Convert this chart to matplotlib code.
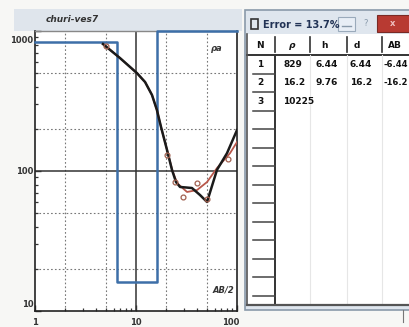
import matplotlib
matplotlib.use("Agg")
import matplotlib.pyplot as plt
from matplotlib.patches import Rectangle
import numpy as np

# ---- data ----
title = "churi-ves7"
layer_rho = [829, 16.2, 10225]
layer_h = [6.44, 9.76]
layer_d = [6.44, 16.2]
layer_ab = ["-6.44", "-16.2"]
error_text = "Error = 13.7%"

obs_ab2 = [4.71, 6.94, 10.2, 12.3, 14.4, 16.1, 17.7, 20.3, 22.7, 24.9, 27.3, 35.8, 43.0, 50.5, 63.4, 79.6, 100]
obs_rho = [807, 641, 501, 432, 349, 273, 206, 141, 102, 83.4, 76.9, 75.6, 67.4, 60.1, 102, 134, 196]

calc_ab2 = [4.71, 6.94, 10.2, 12.3, 14.4, 16.1, 17.7, 20.7, 23.0, 25.5, 32.0, 40.2, 50.5, 63.4, 85.3, 100]
calc_rho = [807, 641, 501, 432, 349, 273, 206, 134, 100, 82, 70.8, 73.1, 83.4, 105, 134, 161]

pt_ab2 = [5.04, 20.3, 24.3, 29.2, 40.0, 50.5, 81.5]
pt_rho = [781, 130, 83, 65, 82, 63, 122]

xticklabels = ["1", "10", "100"]
yticklabels = ["10", "100", "1000"]
headers = ["N", "\u03c1", "h", "d", "AB"]

W, H = 409, 327
fig = plt.figure(figsize=(W / 100, H / 100), dpi=100)
fig.patch.set_facecolor("#f7f7f5")
fnt = ["Liberation Sans Narrow", "DejaVu Sans"]

# overlay for decorations (pixel coords)
ov = fig.add_axes([0, 0, 1, 1])
ov.set_xlim(0, W)
ov.set_ylim(H, 0)
ov.axis("off")
ov.set_zorder(0)

# chart header band
ov.add_patch(Rectangle((14, 9), 228, 22, facecolor="#dfe5ec", edgecolor="none"))
ov.text(72, 20, title, fontsize=6.5, style="italic", fontweight="bold",
        color="#333333", va="center", ha="center", family=fnt)

# ---- main chart ----
ax = fig.add_axes([35 / W, 16 / H, 202 / W, 280 / H])
ax.set_zorder(2)
ax.set_facecolor("white")
ax.set_xscale("log")
ax.set_yscale("log")
ax.set_xlim(1, 100)
ax.set_ylim(10, 1000)
ytop = ax.get_ylim()[1]

for v in [2, 5, 20, 50]:
    ax.axvline(v, color="#777777", lw=0.8, ls=(0, (1.5, 2)), zorder=1)
for v in [20, 50, 200, 500]:
    ax.axhline(v, color="#777777", lw=0.8, ls=(0, (1.5, 2)), zorder=1)
ax.axvline(10, color="#333333", lw=1.1, zorder=1)
ax.axhline(100, color="#333333", lw=1.1, zorder=1)

# model step line (values above the frame drawn along the frame)
mx = [1, layer_d[0], layer_d[0], layer_d[1], layer_d[1], 100]
my = [layer_rho[0], layer_rho[0], layer_rho[1], layer_rho[1], layer_rho[2], layer_rho[2]]
ax.plot(mx, np.minimum(my, ytop), color="#3d6fa8", lw=1.8, zorder=3, clip_on=False)

ax.plot(calc_ab2, calc_rho, color="#b8574a", lw=1.3, zorder=4)
ax.plot(obs_ab2, obs_rho, color="#1a1a1a", lw=1.8, zorder=5)
ax.plot(pt_ab2, pt_rho, ls="none", marker="o", ms=3.5, mfc="none",
        mec="#a0604f", mew=0.9, zorder=6)

for s in ["left", "bottom", "right"]:
    ax.spines[s].set_color("#222222")
    ax.spines[s].set_linewidth(1.2)
ax.spines["top"].set_color("#888888")
ax.spines["top"].set_linewidth(1.0)
ax.tick_params(which="both", direction="in", labelbottom=False, labelleft=False,
               color="#333333")
ax.tick_params(which="major", length=4, width=1)
ax.tick_params(which="minor", length=2.5, width=0.9)
ax.tick_params(top=False, right=False, which="both")

# tick labels
for v, t in zip([1, 10, 100], xticklabels):
    ha = "center" if v < 100 else "right"
    ax.annotate(t, (v, 10), xytext=(2 if v == 100 else 0, -5), textcoords="offset points",
                ha=ha, va="top", fontsize=6, fontweight="bold", family=fnt,
                color="#333333", annotation_clip=False)
for v, t in zip([10, 100, 1000], yticklabels):
    dy = {10: 5, 100: 0, 1000: -7}[v]
    ax.annotate(t, (1, v), xytext=(-1, dy), textcoords="offset points",
                ha="right", va="center", fontsize=6, fontweight="bold", family=fnt,
                color="#333333", annotation_clip=False)
ax.text(0.93, 0.955, "\u03c1a", transform=ax.transAxes, fontsize=6, style="italic",
        fontweight="bold", ha="right", va="top", family=fnt, color="#333333")
ax.text(0.985, 0.06, "AB/2", transform=ax.transAxes, fontsize=6, style="italic",
        fontweight="bold", ha="right", va="bottom", family=fnt, color="#333333")

# ---- table window ----
tw = fig.add_axes([0, 0, 1, 1])
tw.set_xlim(0, W)
tw.set_ylim(H, 0)
tw.axis("off")
tw.set_zorder(3)

tw.add_patch(Rectangle((245, 10), 180, 300, facecolor="#dfe6ee", edgecolor="#8a9aaa", lw=1.2))
tw.add_patch(Rectangle((247, 34), 180, 272, facecolor="white", edgecolor="none"))
# title bar
tw.add_patch(Rectangle((251, 19), 7, 10, facecolor="none", edgecolor="#333333", lw=1.2))
tw.text(263, 25, error_text, fontsize=7, fontweight="bold", family=fnt,
        color="#223355", va="center", ha="left")
tw.add_patch(Rectangle((338, 17), 17, 14, facecolor="#e8eef6", edgecolor="#9aaabb", lw=0.8))
tw.plot([342, 351], [26, 26], color="#8899aa", lw=1)
tw.text(366, 24, "?", fontsize=6, color="#8899aa", ha="center", va="center", family=fnt)
tw.add_patch(Rectangle((377, 15), 40, 17, facecolor="#b83a32", edgecolor="#7a2a25", lw=0.8))
tw.text(393, 23, "x", fontsize=6, color="#f0c0c0", ha="center", va="center",
        fontweight="bold", family=fnt)

# header
col_x = [260, 292, 324, 357, 395]
for cx, h in zip(col_x, headers):
    tw.text(cx, 45, h, fontsize=6.5, fontweight="bold", family=fnt, color="#111111",
            ha="center", va="center", style="italic" if h == "\u03c1" else "normal")
for sx in [275, 310, 347, 382]:
    tw.plot([sx, sx], [37, 52], color="#333333", lw=1.2)
tw.plot([247, 409], [55, 55], color="#333333", lw=1.4)
tw.plot([275, 275], [55, 305], color="#333333", lw=1.4)
for sx in [310, 347, 382]:
    tw.plot([sx, sx], [55, 305], color="#e6e6e6", lw=0.8)

row_h = 18.5
n_rows = 13
for i in range(n_rows):
    y1 = 55 + (i + 1) * row_h
    if y1 < 300:
        tw.plot([253, 275], [y1, y1], color="#444444", lw=1.1)
tw.plot([247, 409], [305, 305], color="#555555", lw=1.6)
tw.plot([247, 247], [34, 305], color="#555555", lw=1.2)

for i, rho in enumerate(layer_rho):
    yc = 55 + i * row_h + row_h / 2
    tw.text(260, yc, str(i + 1), fontsize=6.5, fontweight="bold", family=fnt,
            color="#111111", ha="center", va="center")
    tw.text(283, yc, f"{rho:g}", fontsize=6.5, fontweight="bold", family=fnt,
            color="#111111", ha="left", va="center")
    if i < len(layer_h):
        tw.text(316, yc, f"{layer_h[i]:.2f}", fontsize=6.5, fontweight="bold", family=fnt,
                color="#111111", ha="left", va="center")
        tw.text(350, yc, f"{layer_d[i]:g}", fontsize=6.5, fontweight="bold", family=fnt,
                color="#111111", ha="left", va="center")
        tw.text(384, yc, layer_ab[i], fontsize=6, fontweight="bold", family=fnt,
                color="#111111", ha="left", va="center")

tw.plot([403, 403], [310, 322], color="#777777", lw=0.8)

fig.savefig("out.png", dpi=100, facecolor=fig.get_facecolor())
